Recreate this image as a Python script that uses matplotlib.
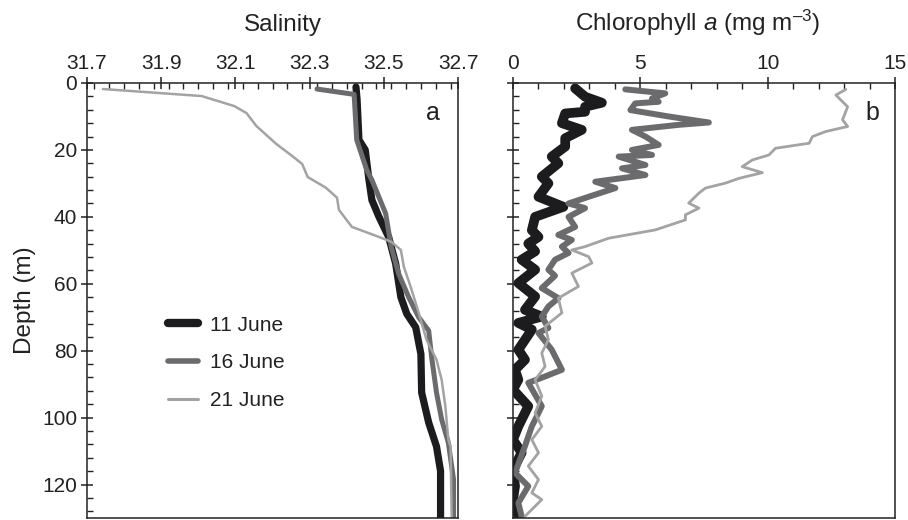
import numpy as np
import matplotlib
matplotlib.use("Agg")
import matplotlib.pyplot as plt
from matplotlib.ticker import MultipleLocator
from matplotlib.lines import Line2D

plt.rcParams['font.family'] = ['Liberation Sans', 'DejaVu Sans']
plt.rcParams['mathtext.fontset'] = 'custom'
plt.rcParams['mathtext.rm'] = 'Liberation Sans'
plt.rcParams['mathtext.it'] = 'Liberation Sans:italic'

# salinity profiles (salinity, depth m)
sal_11_s = [32.425, 32.428, 32.433, 32.45, 32.46, 32.468, 32.487, 32.513, 32.532, 32.546,
            32.562, 32.586, 32.60, 32.602, 32.621, 32.642, 32.653, 32.653]
sal_11_d = [1.2, 5, 17, 20, 29, 35, 40, 46, 54, 64, 69, 73, 81, 92.5, 101.5, 108.6, 116, 130]

sal_16_s = [32.32, 32.42, 32.427, 32.454, 32.468, 32.505, 32.52, 32.54, 32.567, 32.594,
            32.621, 32.629, 32.642, 32.656, 32.674, 32.688, 32.688]
sal_16_d = [1.8, 3.4, 17, 26, 29, 39, 49, 57, 64, 70, 74, 82, 92.5, 100.6, 107.5, 118.5, 130]

sal_21_s = [31.743, 32.009, 32.097, 32.13, 32.156, 32.21, 32.253, 32.28, 32.295, 32.344,
            32.374, 32.379, 32.414, 32.487, 32.521, 32.546, 32.554, 32.575, 32.594, 32.615,
            32.642, 32.656, 32.666, 32.674, 32.68, 32.683]
sal_21_d = [1.8, 3.9, 6.9, 9.0, 12.8, 18.2, 21.8, 24.2, 28.1, 31.3, 34.3, 37.9, 43.0, 46.0,
            47.5, 49.9, 54.9, 61.8, 68.7, 76.7, 82.7, 88.7, 96.7, 106.6, 108.7, 130]

# chlorophyll a profiles (mg m-3, depth m)
chl_11_c = [2.44, 2.83, 3.49, 2.83, 2.83, 2.05, 1.92, 2.70, 2.05, 2.05,
            1.52, 1.78, 1.13, 1.39, 1.0, 1.98, 0.87, 0.74, 1.0, 0.6,
            0.87, 0.34, 0.87, 0.21, 0.87, 0.47, 1.13, 0.21, 0.74, 0.21,
            0.47, 0.08, 0.21, 0.0, 0.6, 0.21, 0.0, 0.34, 0.0, 0.08, 0.0, 0.21]
chl_11_d = [1.6, 4.1, 5.9, 7.1, 8.6, 9.1, 12, 14, 16.5, 19,
            22, 24, 28, 30, 34, 37, 40, 44, 46, 48,
            50.3, 52.8, 55.8, 59.8, 63.8, 67.8, 69.8, 71.7, 73.7, 79.7,
            82.7, 85.7, 88.7, 91.6, 96.6, 102.6, 106.6, 110.5, 115.5, 120.5, 124.5, 129.5]

chl_16_c = [4.41, 5.98, 5.46, 5.72, 4.80, 4.61, 6.11, 7.69, 6.51, 4.67,
            5.2, 5.72, 4.67, 5.46, 4.15, 5.2, 4.28, 5.2, 3.23, 4.02,
            2.97, 2.18, 2.83, 2.18, 2.44, 1.78, 2.31, 1.92, 2.18, 1.65,
            1.39, 1.65, 1.13, 1.78, 1.39, 1.13, 1.39, 1.0, 1.52, 1.92,
            1.26, 0.6, 1.13, 0.74, 0.47, 0.08, 0.6, 0.21, 0.34]
chl_16_d = [1.9, 3.1, 4.6, 5.6, 6.1, 8.1, 10, 11.8, 12.5, 14,
            16, 18.5, 20, 21.5, 22, 24.5, 25.5, 27.5, 29.5, 31.4,
            34, 36, 37.4, 40, 43, 45.4, 46.9, 48.9, 50.8, 52.8,
            55.8, 57.6, 61.3, 64.3, 66.8, 69.8, 73.2, 74.7, 79.7, 85.7,
            87.7, 89.6, 96.6, 102.6, 108.5, 116.5, 120.5, 125.5, 129.5]

chl_21_c = [13.07, 12.68, 13.14, 12.94, 13.14, 12.28, 11.76, 11.63, 10.31, 10.05,
            9.40, 9.0, 9.79, 8.87, 8.35, 7.56, 7.30, 6.90, 7.30, 6.77,
            6.77, 5.59, 3.75, 2.83, 2.31, 2.97, 3.1, 2.31, 2.57, 1.78,
            1.92, 1.26, 1.39, 1.13, 1.26, 0.87, 1.13, 0.87, 1.13, 0.74,
            1.0, 0.6, 1.0, 0.74, 1.13, 0.47]
chl_21_d = [1.9, 3.6, 7.1, 11, 13, 14.5, 16, 18, 19.5, 21.5,
            23, 25, 26.8, 28.5, 29.9, 31.4, 32.9, 35.9, 37.4, 39.4,
            40.9, 43.9, 46.4, 48.9, 49.9, 51.9, 53.8, 56.8, 60.8, 64.3,
            68.7, 72.7, 76.7, 80.7, 84.7, 88.7, 93.6, 98.6, 102.6, 106.6,
            110.5, 114.5, 118.5, 122.5, 124.5, 129.5]

dates = ['11 June', '16 June', '21 June']
colors = ['#1c1c1e', '#6b6b6d', '#a3a3a3']
widths = [5.2, 3.6, 1.8]
chl_widths = [7.0, 4.3, 2.0]
leg_widths = [6.0, 4.0, 2.2]
txt = '#222222'

fig = plt.figure(figsize=(9.08, 5.2), dpi=100)
ax1 = fig.add_axes([87/908, 2/520, 371/908, 435/520])
ax2 = fig.add_axes([513/908, 2/520, 382/908, 435/520])

sal = [(sal_11_s, sal_11_d), (sal_16_s, sal_16_d), (sal_21_s, sal_21_d)]
chl = [(chl_11_c, chl_11_d), (chl_16_c, chl_16_d), (chl_21_c, chl_21_d)]
for i in range(3):
    ax1.plot(sal[i][0], sal[i][1], color=colors[i], lw=widths[i],
             solid_capstyle='round', solid_joinstyle='round')
    ax2.plot(chl[i][0], chl[i][1], color=colors[i], lw=chl_widths[i],
             solid_capstyle='round', solid_joinstyle='round')

ax1.set_xlim(31.7, 32.7)
ax2.set_xlim(0, 15)
for ax in (ax1, ax2):
    ax.set_ylim(130, 0)
    ax.xaxis.tick_top()
    ax.xaxis.set_label_position('top')
    ax.yaxis.set_major_locator(MultipleLocator(20))
    ax.yaxis.set_minor_locator(MultipleLocator(4))
    ax.tick_params(which='major', direction='inout', length=8, width=1.1,
                   labelsize=15, colors=txt, pad=3)
    ax.tick_params(which='minor', direction='in', length=4, width=1.0, colors=txt)
    ax.tick_params(axis='x', which='both', top=True, bottom=False)
    ax.tick_params(axis='y', which='both', left=True, right=False)
    for s in ax.spines.values():
        s.set_linewidth(1.1)
        s.set_color(txt)

ax1.set_xticks([31.7, 31.9, 32.1, 32.3, 32.5, 32.7])
ax1.set_xticklabels(['31.7', '31.9', '32.1', '32.3', '32.5', '32.7'])
ax1.xaxis.set_minor_locator(MultipleLocator(0.04))
ax2.xaxis.set_major_locator(MultipleLocator(5))
ax2.xaxis.set_minor_locator(MultipleLocator(1))
ax2.tick_params(axis='y', labelleft=False)

ax1.set_xlabel('Salinity', fontsize=17.5, color=txt)
ax1.xaxis.set_label_coords(0.528, 1.119)
ax2.set_xlabel('Chlorophyll $\\it{a}$ (mg m$^{\u2013\\mathrm{3}}$)', fontsize=17.5, color=txt)
ax2.xaxis.set_label_coords(0.484, 1.119)
ax1.set_ylabel('Depth (m)', fontsize=17.5, color=txt)
ax1.yaxis.set_label_coords(-0.137, 0.5)

ax1.text(0.933, 0.931, 'a', transform=ax1.transAxes, fontsize=18, ha='center', va='center',
         color=txt)
ax2.text(0.942, 0.931, 'b', transform=ax2.transAxes, fontsize=18, ha='center', va='center',
         color=txt)

handles = [Line2D([], [], color=colors[i], lw=leg_widths[i], solid_capstyle='round')
           for i in range(3)]
ax1.legend(handles, dates, loc='upper left', bbox_to_anchor=(0.168, 0.508), frameon=False,
           fontsize=15, handlelength=1.45, handletextpad=0.55, labelspacing=0.89,
           labelcolor=txt)

fig.savefig('out.png', dpi=100)
